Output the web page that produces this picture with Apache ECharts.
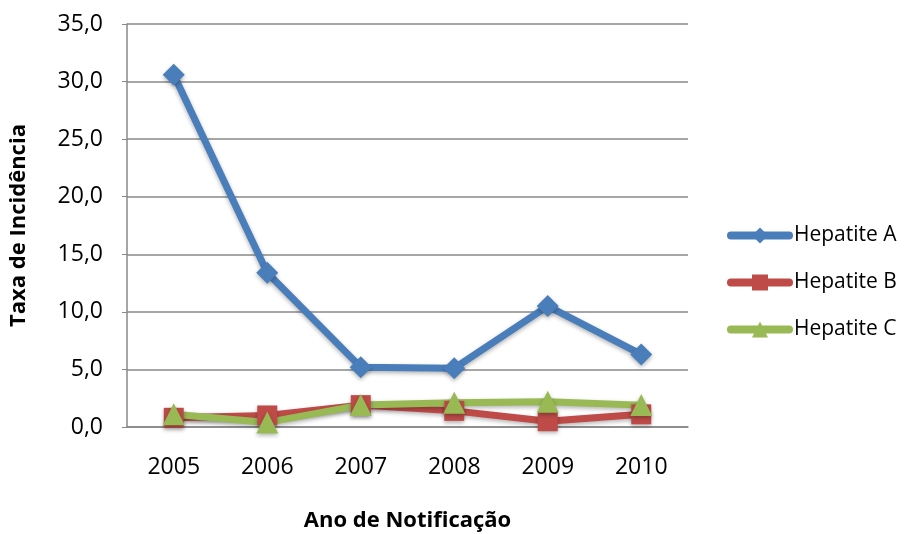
<!DOCTYPE html>
<html>
<head>
<meta charset="utf-8">
<script src="https://cdn.jsdelivr.net/npm/echarts@6/dist/echarts.min.js"></script>
<style>
  html, body { margin: 0; padding: 0; background: #fff; }
  #chart { width: 905px; height: 534px; }
</style>
</head>
<body>
<div id="chart"></div>
<script>
var anos = ['2005', '2006', '2007', '2008', '2009', '2010'];
var hepatiteA = [30.6, 13.4, 5.2, 5.1, 10.5, 6.3];
var hepatiteB = [0.8, 1.0, 1.9, 1.4, 0.5, 1.1];
var hepatiteC = [1.1, 0.4, 1.9, 2.1, 2.2, 1.9];

var fonte = 'Open Sans';

function serie(nome, dados, cor, simbolo, tam) {
    return {
        name: nome,
        type: 'line',
        data: dados,
        symbol: simbolo,
        symbolSize: tam,
        color: cor,
        lineStyle: {
            width: 7,
            shadowColor: 'rgba(0,0,0,0.3)',
            shadowBlur: 4,
            shadowOffsetY: 2
        },
        itemStyle: {
            shadowColor: 'rgba(0,0,0,0.3)',
            shadowBlur: 4,
            shadowOffsetY: 2
        }
    };
}

echarts.init(document.getElementById('chart')).setOption({
    animation: false,
    grid: {
        left: 127,
        right: 217,
        top: 24,
        bottom: 107,
        outerBoundsMode: 'none'
    },
    legend: {
        orient: 'vertical',
        left: 727,
        top: 225,
        padding: 0,
        itemWidth: 58,
        itemHeight: 20,
        itemGap: 26,
        lineStyle: { width: 8, cap: 'round', shadowBlur: 0 },
        itemStyle: { shadowBlur: 0 },
        textStyle: {
            fontFamily: fonte,
            fontSize: 21,
            color: '#000'
        },
        data: ['Hepatite A', 'Hepatite B', 'Hepatite C']
    },
    xAxis: {
        type: 'category',
        data: anos,
        boundaryGap: true,
        name: 'Ano de Notificação',
        nameLocation: 'middle',
        nameGap: 83,
        nameTextStyle: {
            fontFamily: fonte,
            fontSize: 22,
            fontWeight: 'bold',
            color: '#000'
        },
        axisTick: { show: false },
        axisLine: { lineStyle: { color: '#888', width: 1.5 } },
        axisLabel: {
            fontFamily: fonte,
            fontSize: 23,
            color: '#000',
            margin: 29
        }
    },
    yAxis: {
        type: 'value',
        min: 0,
        max: 35,
        interval: 5,
        name: 'Taxa de Incidência',
        nameLocation: 'middle',
        nameGap: 97,
        nameTextStyle: {
            fontFamily: fonte,
            fontSize: 22,
            fontWeight: 'bold',
            color: '#000'
        },
        axisLine: { show: true, lineStyle: { color: '#888', width: 1.5 } },
        axisTick: { show: true, length: 5, lineStyle: { color: '#888' } },
        splitLine: { lineStyle: { color: '#888', width: 1.5 } },
        axisLabel: {
            fontFamily: fonte,
            fontSize: 23,
            color: '#000',
            margin: 24,
            formatter: function (v) { return v.toFixed(1).replace('.', ','); }
        }
    },
    series: [
        serie('Hepatite A', hepatiteA, '#4A7EBB', 'diamond', 22),
        serie('Hepatite B', hepatiteB, '#BE4B48', 'rect', 20),
        serie('Hepatite C', hepatiteC, '#98B954', 'triangle', 22)
    ]
});
</script>
</body>
</html>
